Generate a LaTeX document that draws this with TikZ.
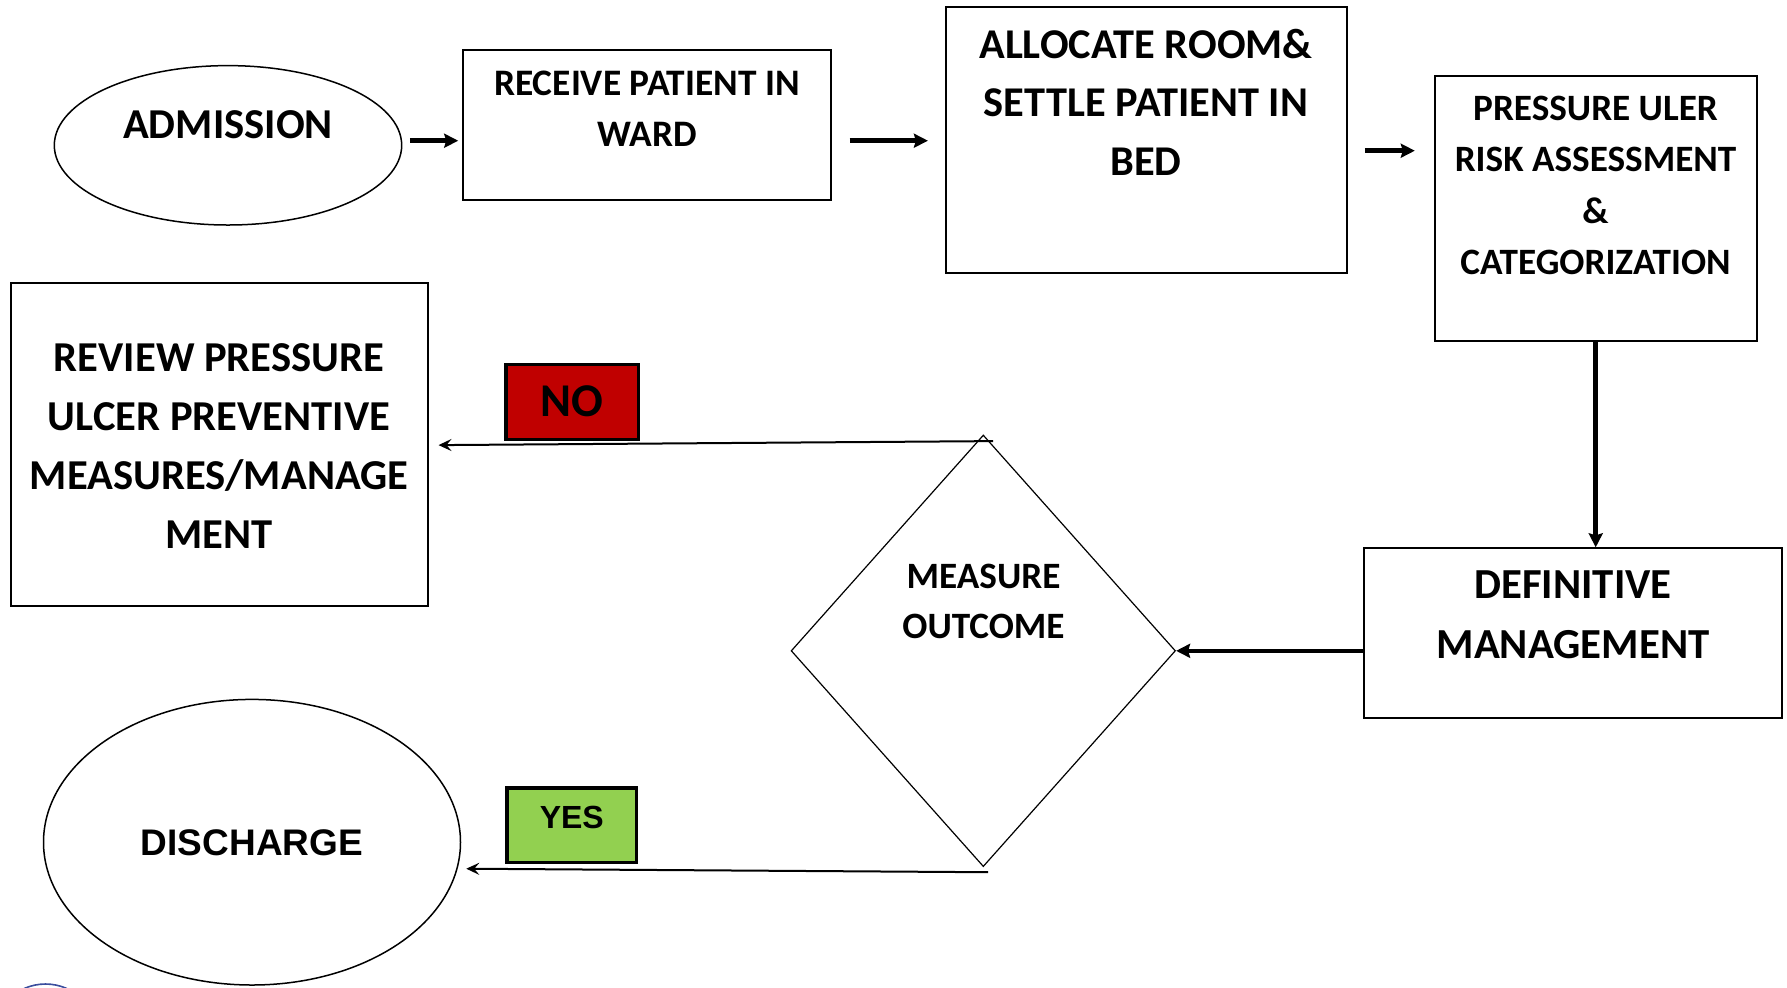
\documentclass[tikz,border=0pt]{standalone}
\usepackage{fontspec}
\setmainfont{Carlito}
\newfontfamily\arialfont{Liberation Sans}
\usetikzlibrary{shapes.geometric,arrows.meta,calc}
\definecolor{nored}{HTML}{C00000}
\definecolor{yesgreen}{HTML}{92D050}
\definecolor{arcblue}{HTML}{3B4E9E}
\newcommand\myfs[1]{\fontsize{#1}{#1}\selectfont\bfseries}
\begin{document}
\begin{tikzpicture}[x=0.5pt,y=-0.5pt,
  box/.style={draw, line width=1pt, rectangle, inner sep=0pt},
  oval/.style={draw, line width=0.75pt, ellipse, inner sep=0pt},
  flag/.style={draw, line width=1.8pt, rectangle, inner sep=0pt},
  lbl/.style={anchor=base, inner sep=0pt},
  fat/.style={line width=2.3pt, -{Stealth[length=7pt,width=7pt,inset=1pt]}},
  slim/.style={line width=1pt, -{Stealth[length=6.5pt,width=6pt,inset=2.5pt]}},
]
\useasboundingbox (0,0) rectangle (1787,987);
\fill[white] (0,0) rectangle (1787,987);

% shapes
\node[oval, minimum width=173.7pt, minimum height=79.7pt] (adm) at (228,145.3) {};
\node[box, minimum width=183.7pt, minimum height=75pt] (rec) at (647,125) {};
\node[box, minimum width=200.2pt, minimum height=132.7pt] (all) at (1146.6,140) {};
\node[box, minimum width=161.2pt, minimum height=132.3pt] (pre) at (1595.7,208.3) {};
\node[box, minimum width=209pt, minimum height=85pt] (def) at (1572.8,633.3) {};
\node[draw, diamond, line width=0.6pt, inner sep=0pt, minimum width=192.2pt, minimum height=215.8pt] (dia) at (983.3,650.8) {};
\node[box, minimum width=208.6pt, minimum height=161.3pt] (rev) at (219.4,444.7) {};
\node[oval, minimum width=208.5pt, minimum height=142.8pt] (dis) at (252,842.2) {};
\node[flag, fill=nored, minimum width=66.3pt, minimum height=37.5pt] (no) at (572,401.8) {};
\node[flag, fill=yesgreen, minimum width=64.7pt, minimum height=37.3pt] (yes) at (571.8,825) {};

% texts
\node[lbl] (tadm) at (228,138.3) {\myfs{21.3}ADMISSION};
\node[lbl] (trec1) at (647,95) {\myfs{18.7}RECEIVE PATIENT IN};
\node[lbl] (trec2) at (647,146) {\myfs{18.7}WARD};
\node[lbl] (tall1) at (1146,58.3) {\myfs{21.2}ALLOCATE ROOM\&};
\node[lbl] (tall2) at (1146,116.7) {\myfs{21.2}SETTLE PATIENT IN};
\node[lbl] (tall3) at (1146,175) {\myfs{21.2}BED};
\node[lbl] (tpre1) at (1595.5,120) {\myfs{18.6}PRESSURE ULER};
\node[lbl] (tpre2) at (1595.5,171.5) {\myfs{18.6}RISK ASSESSMENT};
\node[lbl] (tpre3) at (1595.5,223) {\myfs{18.6}\&};
\node[lbl] (tpre4) at (1595.5,274.5) {\myfs{18.6}CATEGORIZATION};
\node[lbl] (tdef1) at (1573,598.3) {\myfs{21.4}DEFINITIVE};
\node[lbl] (tdef2) at (1573,658.3) {\myfs{21.4}MANAGEMENT};
\node[lbl] (tdia1) at (983.5,588.3) {\myfs{18.6}MEASURE};
\node[lbl] (tdia2) at (983.5,638.3) {\myfs{18.6}OUTCOME};
\node[lbl] (trev1) at (219,371.7) {\myfs{21.3}REVIEW PRESSURE};
\node[lbl] (trev2) at (219,430.6) {\myfs{21.3}ULCER PREVENTIVE};
\node[lbl] (trev3) at (219,489.5) {\myfs{21.3}MEASURES/MANAGE};
\node[lbl] (trev4) at (219,548.4) {\myfs{21.3}MENT};
\node[lbl] (tno) at (572,416) {\myfs{23.5}NO};
\node[lbl] (tyes) at (571.8,828.3) {\arialfont\myfs{16}YES};
\node[lbl] (tdis) at (252,855) {\arialfont\myfs{18.5}DISCHARGE};

% connectors
\draw[fat] ($(adm.east)+(7.5,-4.6)$) -- ($(rec.west)+(-4.1,15.7)$);
\draw[fat] ($(rec.east)+(17.8,15.7)$) -- ($(all.west)+(-17.5,0.7)$);
\draw[fat] ($(all.east)+(17,10.7)$) -- ($(pre.west)+(-18.7,-57.6)$);
\draw[fat] (pre.south) -- (pre.south |- def.north);
\draw[fat] (def.west |- dia.east) -- (dia.east);
\draw[slim] ($(dia.north)+(9.7,6.7)$) -- ($(rev.east)+(9.5,0.4)$);
\draw[slim] ($(dia.south)+(4.7,5)$) -- ($(dis.east)+(5,26.5)$);

% partial blue circle at bottom edge
\begin{scope}
\clip (0,0) rectangle (1787,987);
\draw[arcblue, line width=0.8pt] (45.5,1036.5) circle[radius=52.5];
\end{scope}
\end{tikzpicture}
\end{document}
